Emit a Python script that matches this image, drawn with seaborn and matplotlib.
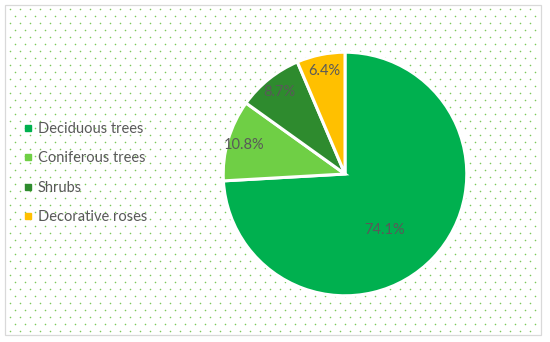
import numpy as np
import matplotlib
matplotlib.use("Agg")
import matplotlib.pyplot as plt
import seaborn as sns
from matplotlib.patches import Rectangle

categories = ["Deciduous trees", "Coniferous trees", "Shrubs", "Decorative roses"]
values = [74.1, 10.8, 8.7, 6.4]
colors = ["#00B04F", "#6FCF45", "#2E8B2E", "#FFC000"]

sns.set_theme(style="white")
plt.rcParams['font.family'] = ['Lato', 'DejaVu Sans']

W, H = 550, 342
fig = plt.figure(figsize=(W / 100, H / 100), dpi=100)
fig.patch.set_facecolor("white")

# background with dotted pattern
bg = fig.add_axes([0, 0, 1, 1])
bg.set_xlim(0, W)
bg.set_ylim(H, 0)
bg.axis("off")
rows = np.arange(9, 334, 7)
for i, yy in enumerate(rows):
    xs = np.arange(10 + (5 if i % 2 else 0), 538, 10)
    bg.scatter(xs, np.full_like(xs, yy), s=1.3, color="#7CC95A", linewidths=0)
bg.add_patch(Rectangle((5, 5), 536, 330, fill=False, edgecolor="#D9D9D9", linewidth=0.9))

# pie
cx, cy, r = 345, 174, 123
ax = fig.add_axes([(cx - r) / W, 1 - (cy + r) / H, 2 * r / W, 2 * r / H])
wedges, texts, autotexts = ax.pie(
    values, colors=colors, startangle=90, counterclock=False,
    autopct="%.1f%%", pctdistance=0.86,
    wedgeprops=dict(edgecolor="white", linewidth=2.2),
    textprops=dict(color="#595959", fontsize=10.5),
)
# first label sits nearer the centre
ang = np.deg2rad(-55)
autotexts[0].set_position((0.56 * np.cos(ang), 0.56 * np.sin(ang)))
ax.set_xlim(-1.01, 1.01)
ax.set_ylim(-1.01, 1.01)
ax.set_aspect("equal")

# legend
handles = [plt.Line2D([], [], marker="s", linestyle="", markersize=5,
                      markerfacecolor=c, markeredgecolor=c) for c in colors]
leg = fig.legend(handles, categories, loc="upper left",
                 bbox_to_anchor=(10 / W, 1 - 109 / H), frameon=False,
                 labelspacing=1.05, handlelength=0.6, handletextpad=0.4,
                 prop=dict(size=10.5))
for t in leg.get_texts():
    t.set_color("#595959")

fig.savefig("out.png", dpi=100, facecolor="white")
